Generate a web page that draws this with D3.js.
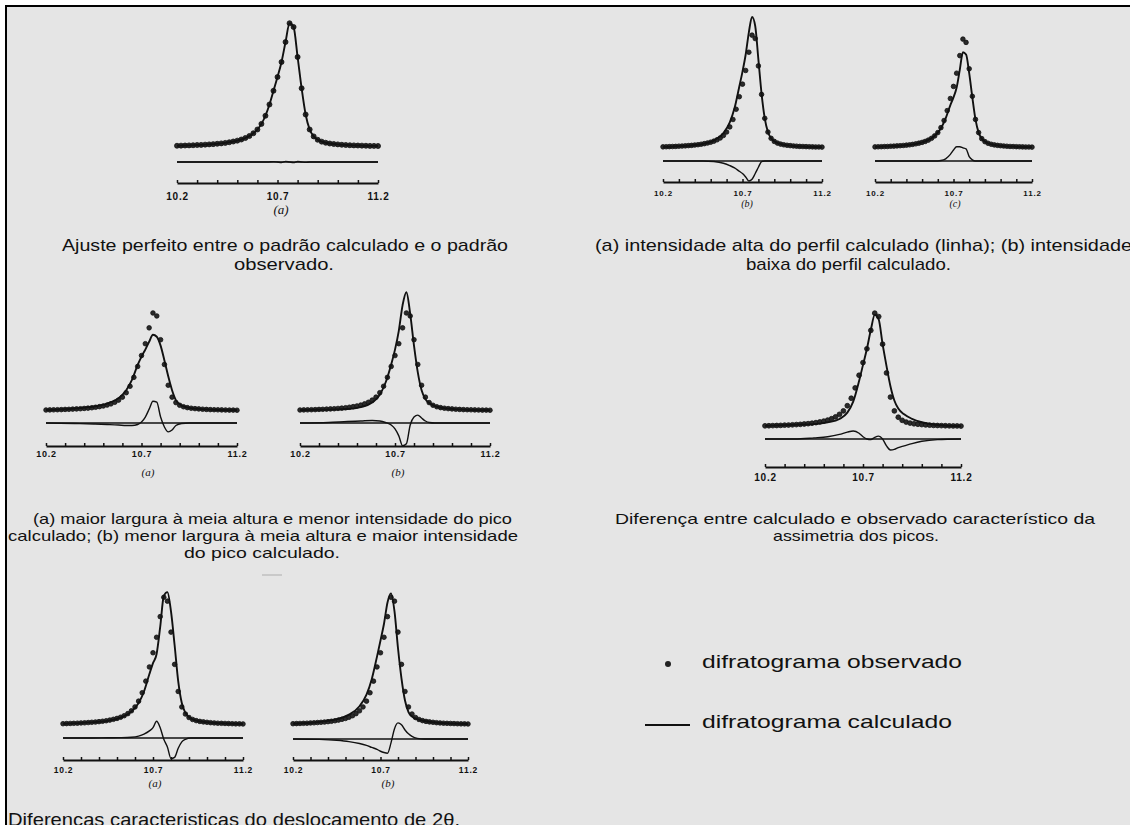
<!DOCTYPE html>
<html>
<head>
<meta charset="utf-8">
<script src="https://cdn.jsdelivr.net/npm/d3@7"></script>
<style>
  html, body { margin: 0; padding: 0; background: #fff; }
  svg { display: block; }
</style>
</head>
<body>
<div id="chart"></div>
<script>
// observed pattern, 2θ step 0.02 (relative intensity, peak ~100)
const obsX = [10.20, 10.22, 10.24, 10.26, 10.28, 10.30, 10.32, 10.34, 10.36, 10.38,
  10.40, 10.42, 10.44, 10.46, 10.48, 10.50, 10.52, 10.54, 10.56, 10.58,
  10.60, 10.62, 10.64, 10.66, 10.68, 10.70, 10.72, 10.74, 10.76, 10.78,
  10.80, 10.82, 10.84, 10.86, 10.88, 10.90, 10.92, 10.94, 10.96, 10.98,
  11.00, 11.02, 11.04, 11.06, 11.08, 11.10, 11.12, 11.14, 11.16, 11.18, 11.20];
const obsY = [1.0, 1.1, 1.2, 1.3, 1.4, 1.6, 1.7, 1.9, 2.1, 2.3,
  2.6, 2.9, 3.3, 3.8, 4.4, 5.1, 6.0, 7.2, 8.8, 11.0,
  14.0, 18.5, 25, 34, 45, 56, 68, 84, 99, 96,
  72, 47, 26, 14, 8.5, 5.8, 4.3, 3.4, 2.8, 2.4,
  2.1, 1.8, 1.6, 1.4, 1.3, 1.2, 1.1, 1.0, 0.9, 0.9, 0.8];

// grid for the calculated profiles and difference curves
const gridX = [10.20, 10.35, 10.45, 10.52, 10.58, 10.62, 10.65, 10.68, 10.70, 10.72, 10.74, 10.76,
  10.78, 10.80, 10.82, 10.84, 10.86, 10.88, 10.91, 10.95, 11.00, 11.08, 11.20];

const diffTopA = [0, 0, 0, 0, 0, 0, 0, 0.3, 0, -0.4, 0.5, 0, -0.5, 0.4, 0, -0.3, 0, 0, 0, 0, 0, 0, 0];

const calcTopB = [1.0, 2.0, 3.5, 6.5, 13, 22.5, 35, 54, 67, 82, 101.5, 115, 107, 77.5, 47.5, 26, 14, 8.5, 5.0, 3.1, 2.1, 1.3, 0.8];
const diffTopB = [0, 0, 0, -0.5, -2, -4, -6, -9, -11, -14, -17.5, -16, -11, -5.5, -0.5, 0, 0, 0, 0, 0, 0, 0, 0];

const calcTopC = [1.0, 2.0, 3.5, 6.0, 11.0, 18.0, 27, 39, 46, 55, 71, 87, 85, 68, 46, 26, 14, 8.5, 5.0, 3.1, 2.1, 1.3, 0.8];
const diffTopC = [0, 0, 0, 0, 0, 0.5, 2, 6, 10, 13, 13, 12, 11, 4, 1, 0, 0, 0, 0, 0, 0, 0, 0];

const calcMidA = [1.0, 2.5, 4.5, 7.5, 13, 21, 31.5, 46.5, 55, 62, 70, 77, 75, 66, 51, 35, 21, 11, 5.5, 3.1, 2.1, 1.3, 0.8];
const diffMidA = [0, -0.5, -1, -1.5, -2, -2.5, -2.5, -1.5, 1, 6, 14, 22, 21, 6, -4, -9, -7, -2.5, -0.5, 0, 0, 0, 0];

const calcMidB = [1.0, 1.5, 2.0, 4.0, 8.5, 16.5, 28.5, 47, 62, 81, 107, 120, 98, 66, 39, 21, 12, 8, 5, 3.1, 2.1, 1.3, 0.8];
const diffMidB = [0, 0.5, 1.5, 2, 2.5, 2, 0.5, -2, -6, -13, -23, -21, -2, 6, 8, 5, 2, 0.5, 0, 0, 0, 0, 0];

const calcAsym = [1.0, 2.0, 2.5, 4.0, 7.0, 12.5, 22, 40, 54, 68, 84.5, 97.5, 93.5, 72, 53, 35.5, 23, 16, 11, 7.1, 4.1, 1.8, 0.8];
const diffAsym = [0, 0, 1, 2, 4, 6, 7, 5, 2, 0, -0.5, 1.5, 2.5, 0, -6, -9.5, -9, -7.5, -6, -4, -2, -0.5, 0];

const calcBotA = [1.0, 2.0, 3.3, 5.7, 10.4, 17, 26, 39.5, 48, 55, 76, 100, 103, 88, 62, 34, 17, 9.5, 5.0, 3.1, 2.1, 1.3, 0.8];
const diffBotA = [0, 0, 0.2, 0.3, 0.6, 1.5, 3, 5.5, 8, 13, 8, -1, -7, -16, -15, -8, -3, -1, 0, 0, 0, 0, 0];

const calcBotB = [1.0, 2.3, 4.5, 8.0, 14.5, 23.5, 35.5, 53, 65.5, 78.5, 95, 102, 88, 59.5, 36, 19, 10, 6.5, 4.5, 3.1, 2.1, 1.3, 0.8];
const diffBotB = [0, -0.3, -1, -2, -3.5, -5, -6.5, -8, -9.5, -10.5, -11, -3, 8, 12.5, 11, 7, 4, 2, 0.5, 0, 0, 0, 0];

// axis ticks (2θ)
const tickVals = [10.2, 10.3, 10.4, 10.5, 10.6, 10.7, 10.8, 10.9, 11.0, 11.1, 11.2];
const tickLabels = [10.2, 10.7, 11.2];

// captions
const captions = [
  { t: "Ajuste perfeito entre o padrão calculado e o padrão", x: 62, y: 251, w: 446, fs: 17 },
  { t: "observado.", x: 234, y: 270, w: 100, fs: 17 },
  { t: "(a) intensidade alta do perfil calculado (linha); (b) intensidade", x: 595, y: 251, w: 537, fs: 17 },
  { t: "baixa do perfil calculado.", x: 746, y: 270, w: 205, fs: 17 },
  { t: "(a) maior largura à meia altura e menor intensidade do pico", x: 33, y: 524, w: 479, fs: 15 },
  { t: "calculado; (b) menor largura à meia altura e maior intensidade", x: 8, y: 541, w: 510, fs: 15 },
  { t: "do pico calculado.", x: 184, y: 558, w: 156, fs: 15 },
  { t: "Diferença entre calculado e observado característico da", x: 615, y: 524, w: 480, fs: 15 },
  { t: "assimetria dos picos.", x: 773, y: 541, w: 166, fs: 15 },
  { t: "Diferencas caracteristicas do deslocamento de 2θ.", x: 8, y: 826, w: 452, fs: 19 }
];
const legendLabels = ["difratograma observado", "difratograma calculado"];

class PeakPanel {
  constructor(_config, _svg) {
    this.config = _config;
    this.svg = _svg;
    this.initVis();
  }

  initVis() {
    let vis = this;
    const c = vis.config;
    vis.x = d3.scaleLinear().domain([10.2, 11.2]).range([c.x0, c.x1]);
    vis.y = d3.scaleLinear().domain([0, 100]).range([c.base, c.base - 100 * c.k]);
    vis.yd = d3.scaleLinear().domain([0, 100]).range([c.diffY, c.diffY - 100 * c.k]);
    vis.xAxis = d3.axisBottom(vis.x)
      .tickValues(tickVals)
      .tickSize(-3)
      .tickSizeOuter(0)
      .tickPadding(c.tickOff - 0.71 * c.tickFs)
      .tickFormat(d => tickLabels.some(t => Math.abs(t - d) < 1e-6) ? d.toFixed(1) : "");
    vis.renderVis();
  }

  renderVis() {
    let vis = this;
    const c = vis.config;
    const g = vis.svg.append("g");

    // zero line of the difference curve
    g.append("line")
      .attr("x1", vis.x(vis.x.domain()[0]))
      .attr("x2", vis.x(vis.x.domain()[1]))
      .attr("y1", vis.yd(0))
      .attr("y2", vis.yd(0))
      .attr("stroke", "#111")
      .attr("stroke-width", 1.6);

    // difference curve
    g.append("path")
      .datum(d3.zip(gridX, c.diff))
      .attr("fill", "none")
      .attr("stroke", "#111")
      .attr("stroke-width", 1.4)
      .attr("d", d3.line().x(d => vis.x(d[0])).y(d => vis.yd(d[1])).curve(d3.curveMonotoneX));

    // observed points
    g.selectAll(".obs")
      .data(d3.zip(obsX, obsY))
      .join("circle")
      .attr("class", "obs")
      .attr("cx", d => vis.x(d[0]))
      .attr("cy", d => vis.y(d[1]))
      .attr("r", c.r)
      .attr("fill", "#2a2a2a")
      .attr("stroke", "#111")
      .attr("stroke-width", 0.8);

    // calculated profile
    g.append("path")
      .datum(d3.zip(c.calcX, c.calc))
      .attr("fill", "none")
      .attr("stroke", "#111")
      .attr("stroke-width", 1.9)
      .attr("d", d3.line().x(d => vis.x(d[0])).y(d => vis.y(d[1])).curve(d3.curveMonotoneX));

    // 2θ axis
    const ax = g.append("g")
      .attr("transform", `translate(0,${c.axisY})`)
      .call(vis.xAxis);
    ax.select(".domain").attr("stroke", "#111").attr("stroke-width", 2);
    ax.selectAll(".tick line").attr("stroke", "#111").attr("stroke-width", 1.5);
    ax.selectAll(".tick text")
      .attr("fill", "#111")
      .style("font-family", "'Liberation Sans', Arial, sans-serif")
      .style("font-weight", "bold")
      .style("font-size", c.tickFs + "px")
      .style("letter-spacing", "0.8px");

    if (c.label) {
      g.append("text")
        .attr("x", c.labelX)
        .attr("y", c.labelY)
        .attr("text-anchor", "middle")
        .attr("fill", "#111")
        .style("font-family", "'Liberation Serif', 'DejaVu Serif', serif")
        .style("font-style", "italic")
        .style("font-size", c.labelFs + "px")
        .text(c.label);
    }
  }
}

const svg = d3.select("#chart").append("svg")
  .attr("width", 1130)
  .attr("height", 825);

svg.append("rect").attr("width", 1130).attr("height", 825).attr("fill", "#fff");
svg.append("rect").attr("x", 6).attr("y", 6).attr("width", 1124).attr("height", 819).attr("fill", "#e5e5e5");
svg.append("path").attr("d", "M6,825V6H1130").attr("fill", "none").attr("stroke", "#000").attr("stroke-width", 2);

const panels = [
  { x0: 177, x1: 378, base: 147, k: 1.25, diffY: 162, axisY: 183, tickOff: 17, tickFs: 10, r: 2.5,
    calcX: obsX, calc: obsY, diff: diffTopA, label: "(a)", labelX: 281, labelY: 214, labelFs: 13 },
  { x0: 663, x1: 822, base: 148, k: 1.14, diffY: 161, axisY: 182, tickOff: 13.5, tickFs: 8, r: 2.3,
    calcX: gridX, calc: calcTopB, diff: diffTopB, label: "(b)", labelX: 747, labelY: 207, labelFs: 10 },
  { x0: 875, x1: 1032, base: 148, k: 1.10, diffY: 161, axisY: 182, tickOff: 13.5, tickFs: 8, r: 2.3,
    calcX: gridX, calc: calcTopC, diff: diffTopC, label: "(c)", labelX: 955, labelY: 207, labelFs: 10 },
  { x0: 46, x1: 237, base: 411, k: 0.99, diffY: 423, axisY: 446, tickOff: 11, tickFs: 9, r: 2.3,
    calcX: gridX, calc: calcMidA, diff: diffMidA, label: "(a)", labelX: 148, labelY: 476, labelFs: 11 },
  { x0: 300, x1: 490, base: 411, k: 0.99, diffY: 423, axisY: 446, tickOff: 11, tickFs: 9, r: 2.3,
    calcX: gridX, calc: calcMidB, diff: diffMidB, label: "(b)", labelX: 398, labelY: 476, labelFs: 11 },
  { x0: 765, x1: 961, base: 427, k: 1.15, diffY: 439, axisY: 467, tickOff: 13.5, tickFs: 10, r: 2.4,
    calcX: gridX, calc: calcAsym, diff: diffAsym, label: null },
  { x0: 63, x1: 243, base: 725, k: 1.29, diffY: 738, axisY: 760, tickOff: 12.5, tickFs: 8.5, r: 2.3,
    calcX: gridX, calc: calcBotA, diff: diffBotA, label: "(a)", labelX: 155, labelY: 787, labelFs: 11 },
  { x0: 293, x1: 468, base: 725, k: 1.29, diffY: 739, axisY: 760, tickOff: 12.5, tickFs: 8.5, r: 2.3,
    calcX: gridX, calc: calcBotB, diff: diffBotB, label: "(b)", labelX: 388, labelY: 787, labelFs: 11 }
];
panels.forEach(p => new PeakPanel(p, svg));

// captions, stretched to the widths of the scanned figure
svg.selectAll(".caption")
  .data(captions)
  .join("text")
  .attr("class", "caption")
  .attr("x", d => d.x)
  .attr("y", d => d.y)
  .attr("textLength", d => d.w)
  .attr("lengthAdjust", "spacingAndGlyphs")
  .attr("fill", "#111")
  .style("font-family", "'Liberation Sans', Arial, sans-serif")
  .style("font-size", d => d.fs + "px")
  .text(d => d.t);

// small stray dash under the middle caption
svg.append("line").attr("x1", 262).attr("x2", 282).attr("y1", 575).attr("y2", 575)
  .attr("stroke", "#b5b5b5").attr("stroke-width", 1.2);

// legend
const legend = svg.append("g");
legend.append("circle").attr("cx", 668).attr("cy", 664).attr("r", 3).attr("fill", "#222");
legend.append("line").attr("x1", 645).attr("x2", 690).attr("y1", 725).attr("y2", 725)
  .attr("stroke", "#111").attr("stroke-width", 2);
legend.selectAll(".leg")
  .data(legendLabels)
  .join("text")
  .attr("class", "leg")
  .attr("x", 702)
  .attr("y", (d, i) => i === 0 ? 668 : 728)
  .attr("textLength", (d, i) => i === 0 ? 260 : 250)
  .attr("lengthAdjust", "spacingAndGlyphs")
  .attr("fill", "#111")
  .style("font-family", "'Liberation Sans', Arial, sans-serif")
  .style("font-size", "19px")
  .text(d => d);
</script>
</body>
</html>
